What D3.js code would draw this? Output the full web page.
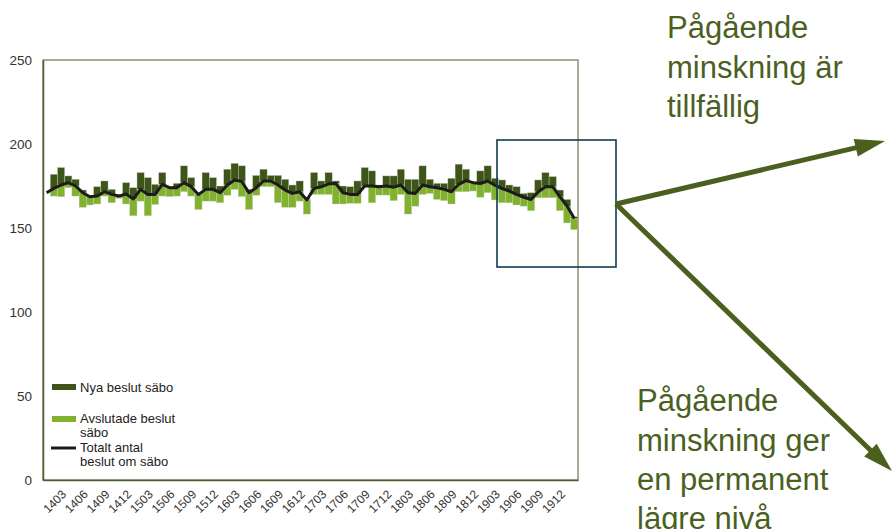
<!DOCTYPE html>
<meta charset="utf-8">
<script src="https://d3js.org/d3.v7.min.js"></script>
<style>
  body { margin: 0; background: #fff; }
  text { font-family: "Liberation Sans", Arial, sans-serif; }
</style>
<div id="chart"></div>
<script>
// months (yymm), one band each
var months = ["1401","1402","1403","1404","1405","1406","1407","1408","1409","1410","1411","1412",
  "1501","1502","1503","1504","1505","1506","1507","1508","1509","1510","1511","1512",
  "1601","1602","1603","1604","1605","1606","1607","1608","1609","1610","1611","1612",
  "1701","1702","1703","1704","1705","1706","1707","1708","1709","1710","1711","1712",
  "1801","1802","1803","1804","1805","1806","1807","1808","1809","1810","1811","1812",
  "1901","1902","1903","1904","1905","1906","1907","1908","1909","1910","1911","1912",
  "2001","2002"];
var tickLabels = ["1403","1406","1409","1412","1503","1506","1509","1512","1603","1606","1609","1612",
  "1703","1706","1709","1712","1803","1806","1809","1812","1903","1906","1909","1912"];

// total stock (line)
var totalt = [171,173.6,175.6,177,175,171,168.6,169,171.6,170,169,170.2,
  167.3,173,170,170,176,174,174,177,174.6,170,173,173,
  171,175.6,178.6,177.6,171,174,178,178,175.6,172.6,170.6,171.6,
  166.7,173.6,174.5,176.3,176.5,171,170,170,175,175,174.6,175,
  174.3,175.6,171,170.6,175.6,174.6,174,173,171.6,176,178.2,177,
  176.5,178,175.5,173.5,172,170,168.3,167,171.6,174.6,174.6,168.6,
  163,155.7];
// upper end of the "nya beslut" bar
var nya = [171,182,186,181,179,172.6,169,174.6,178,173,170,177,
  174,183,180,176,183,174.5,176.6,187,180,170.5,183,180,
  175,185,188.5,187,173,181.3,185,181.3,181.3,179,175.6,178,
  167,183,178,183,178,175,174.6,178,186,184,175.6,181,
  181,185,179,179,187,179,176.6,176.6,179.6,188,185,177.5,
  184,187,179.6,178.6,175.6,174.6,170.6,171,178.6,183,180.6,172.6,
  167,156.7];
// lower end of the "avslutade beslut" bar
var avslutade = [171,169,168.6,174,169,162.3,163.7,164.3,169,165,167.7,164.3,
  157.3,166,157.3,164,169,168.7,169,171.6,169,161,166,166,
  165,169.5,173,168.7,161,169.5,174.6,174.6,165,162.3,162.3,166,
  158.3,170,170,170,164.3,164.3,164.7,164.7,174.6,165,169.6,169.6,
  166.3,170,158.3,163,170,170.6,167,166.3,164.3,171.6,171.6,172,
  168.3,171,166.7,165,165,163.7,163,160.3,168,168,168,160.3,
  153,149];
var yTicks = [0,50,100,150,200,250];

var W = 893, H = 529;
var margin = {top: 60, left: 43, right: 315, bottom: 49};
var darkGreen = "#3e5519", lightGreen = "#80b22e", olive = "#4b5f1f";

var svg = d3.select("#chart").append("svg")
  .attr("width", W).attr("height", H);

var x = d3.scaleBand()
  .domain(months)
  .range([margin.left, W - margin.right])
  .padding(0);
var y = d3.scaleLinear()
  .domain([0, 250])
  .range([H - margin.bottom, margin.top]);

// plot frame
svg.append("rect")
  .attr("x", margin.left).attr("y", margin.top)
  .attr("width", W - margin.right - margin.left)
  .attr("height", y(0) - margin.top)
  .attr("fill", "none").attr("stroke", "#7b7e62").attr("stroke-width", 1.3);

// y axis labels
svg.append("g")
  .attr("transform", "translate(" + margin.left + ",0)")
  .call(d3.axisLeft(y).tickValues(yTicks).tickSize(0).tickPadding(11))
  .call(g => g.select(".domain").attr("stroke", "#4f5e2c").attr("stroke-width", 1.5))
  .selectAll("text")
  .attr("font-size", 13.5).attr("fill", "#333")
  .attr("font-family", "Liberation Sans, Arial, sans-serif");

// x axis
svg.append("g")
  .attr("transform", "translate(0," + y(0) + ")")
  .call(d3.axisBottom(x).tickValues(tickLabels).tickSize(0).tickFormat(d => d))
  .call(g => g.select(".domain").attr("stroke", "#4f5e2c").attr("stroke-width", 1.5))
  .selectAll("text")
  .attr("font-size", 12).attr("fill", "#333")
  .attr("font-family", "Liberation Sans, Arial, sans-serif")
  .style("text-anchor", "end")
  .attr("x", 0).attr("y", 0).attr("dy", "0.35em")
  .attr("transform", "translate(3,12) rotate(-45)");

// bars
svg.append("g").selectAll("rect")
  .data(months)
  .enter().append("rect")
  .attr("x", d => x(d))
  .attr("width", x.bandwidth())
  .attr("y", (d, i) => y(totalt[i]))
  .attr("height", (d, i) => y(avslutade[i]) - y(totalt[i]))
  .attr("fill", lightGreen)
  .attr("stroke", "#c9cfc0").attr("stroke-width", 0.4);

svg.append("g").selectAll("rect")
  .data(months)
  .enter().append("rect")
  .attr("x", d => x(d))
  .attr("width", x.bandwidth())
  .attr("y", (d, i) => y(nya[i]))
  .attr("height", (d, i) => y(totalt[i]) - y(nya[i]))
  .attr("fill", darkGreen)
  .attr("stroke", "#c9cfc0").attr("stroke-width", 0.4);

// total line
svg.append("path")
  .datum(months)
  .attr("fill", "none")
  .attr("stroke", "#1c1c1c")
  .attr("stroke-width", 3)
  .attr("stroke-linejoin", "round")
  .attr("d", d3.line()
    .x(d => x(d) + x.bandwidth() / 2)
    .y((d, i) => y(totalt[i])));

// legend
var legend = svg.append("g").attr("font-size", 13).attr("fill", "#222");
legend.append("rect").attr("x", 52).attr("y", 384).attr("width", 24).attr("height", 6).attr("fill", darkGreen);
legend.append("text").attr("x", 80).attr("y", 392).text("Nya beslut säbo");
legend.append("rect").attr("x", 52).attr("y", 416).attr("width", 24).attr("height", 6).attr("fill", lightGreen);
legend.append("text").attr("x", 80).attr("y", 423).text("Avslutade beslut");
legend.append("text").attr("x", 80).attr("y", 437).text("säbo");
legend.append("line").attr("x1", 51).attr("x2", 76).attr("y1", 448).attr("y2", 448)
  .attr("stroke", "#1c1c1c").attr("stroke-width", 3);
legend.append("text").attr("x", 80).attr("y", 452).text("Totalt antal");
legend.append("text").attr("x", 80).attr("y", 466).text("beslut om säbo");

// highlight box
svg.append("rect")
  .attr("x", 497).attr("y", 140).attr("width", 119).attr("height", 127)
  .attr("fill", "none").attr("stroke", "#0e3d52").attr("stroke-width", 1.6);

// arrows
function arrow(x0, y0, x1, y1) {
  var dx = x1 - x0, dy = y1 - y0, len = Math.sqrt(dx * dx + dy * dy);
  var ux = dx / len, uy = dy / len, hl = 30, hw = 9;
  var bx = x1 - ux * hl, by = y1 - uy * hl;
  svg.append("line")
    .attr("x1", x0).attr("y1", y0).attr("x2", bx + ux * 4).attr("y2", by + uy * 4)
    .attr("stroke", olive).attr("stroke-width", 5);
  svg.append("polygon")
    .attr("points", [[x1, y1], [bx - uy * hw, by + ux * hw], [bx + uy * hw, by - ux * hw]].map(p => p.join(",")).join(" "))
    .attr("fill", olive);
}
arrow(616, 204, 885, 141);
arrow(616, 204, 892, 471);

// annotations
var ann = svg.append("g").attr("font-size", 31).attr("fill", olive);
[["Pågående", 38], ["minskning är", 78], ["tillfällig", 117]].forEach(function (t) {
  ann.append("text").attr("x", 667).attr("y", t[1]).text(t[0]);
});
[["Pågående", 411], ["minskning ger", 451], ["en permanent", 490], ["lägre nivå", 529]].forEach(function (t) {
  ann.append("text").attr("x", 637).attr("y", t[1]).text(t[0]);
});
</script>
